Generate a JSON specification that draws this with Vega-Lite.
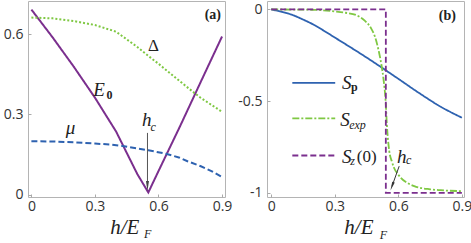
{
  "$schema": "https://vega.github.io/schema/vega-lite/v6.json",
  "padding": {"left": 2, "top": 0, "right": 0, "bottom": 0},
  "spacing": 4,
  "resolve": {"scale": {"color": "independent", "strokeDash": "independent"}},
  "config": {
    "view": {"stroke": "#b4b4b4", "strokeWidth": 1},
    "axis": {"domain": false, "grid": false, "tickSize": -3, "tickColor": "#aaa", "labelFont": "Open Sans", "labelFontSize": 14, "labelColor": "#333", "labelPadding": 5},
    "axisY": {"labelPadding": 8}
  },
  "datasets": {
    "aLines": [
      {"s": "E0", "x": 0, "y": 0.693}, {"s": "E0", "x": 0.1, "y": 0.589}, {"s": "E0", "x": 0.2, "y": 0.479}, {"s": "E0", "x": 0.3, "y": 0.363}, {"s": "E0", "x": 0.4, "y": 0.236}, {"s": "E0", "x": 0.5, "y": 0.077}, {"s": "E0", "x": 0.552, "y": 0.008}, {"s": "E0", "x": 0.6, "y": 0.088}, {"s": "E0", "x": 0.7, "y": 0.253}, {"s": "E0", "x": 0.8, "y": 0.423}, {"s": "E0", "x": 0.9, "y": 0.592},
      {"s": "Delta", "x": 0, "y": 0.663}, {"s": "Delta", "x": 0.1, "y": 0.66}, {"s": "Delta", "x": 0.2, "y": 0.65}, {"s": "Delta", "x": 0.3, "y": 0.635}, {"s": "Delta", "x": 0.4, "y": 0.61}, {"s": "Delta", "x": 0.5, "y": 0.553}, {"s": "Delta", "x": 0.564, "y": 0.512}, {"s": "Delta", "x": 0.6, "y": 0.49}, {"s": "Delta", "x": 0.7, "y": 0.425}, {"s": "Delta", "x": 0.769, "y": 0.381}, {"s": "Delta", "x": 0.8, "y": 0.362}, {"s": "Delta", "x": 0.9, "y": 0.31},
      {"s": "mu", "x": 0, "y": 0.2}, {"s": "mu", "x": 0.1, "y": 0.199}, {"s": "mu", "x": 0.2, "y": 0.196}, {"s": "mu", "x": 0.3, "y": 0.191}, {"s": "mu", "x": 0.375, "y": 0.1875}, {"s": "mu", "x": 0.438, "y": 0.181}, {"s": "mu", "x": 0.5, "y": 0.173}, {"s": "mu", "x": 0.552, "y": 0.166}, {"s": "mu", "x": 0.635, "y": 0.153}, {"s": "mu", "x": 0.7, "y": 0.138}, {"s": "mu", "x": 0.737, "y": 0.125}, {"s": "mu", "x": 0.8, "y": 0.106}, {"s": "mu", "x": 0.85, "y": 0.088}, {"s": "mu", "x": 0.9, "y": 0.066}
    ],
    "aText": [
      {"g": "big", "x": 0.292, "y": 0.369, "text": "E"},
      {"g": "subb", "x": 0.355, "y": 0.358, "text": "0"},
      {"g": "sym", "x": 0.55, "y": 0.537, "text": "Δ"},
      {"g": "big", "x": 0.162, "y": 0.226, "text": "μ"},
      {"g": "big", "x": 0.522, "y": 0.256, "text": "h"},
      {"g": "sub", "x": 0.562, "y": 0.237, "text": "c"},
      {"g": "title", "x": 0.372, "y": -0.149, "text": "h/E"},
      {"g": "sub", "x": 0.532, "y": -0.164, "text": "F"},
      {"g": "tag", "x": 0.895, "y": 0.657, "text": "(a)"}
    ],
    "aArrow": [{"x": 0.548, "y": 0.231, "y2": 0.03}],
    "aHead": [{"x": 0.548, "y": 0.032}],
    "bLines": [
      {"s": "Sp", "i": 0, "x": 0, "y": 0}, {"s": "Sp", "i": 1, "x": 0.05, "y": -0.013}, {"s": "Sp", "i": 2, "x": 0.1, "y": -0.03}, {"s": "Sp", "i": 3, "x": 0.15, "y": -0.055}, {"s": "Sp", "i": 4, "x": 0.2, "y": -0.083}, {"s": "Sp", "i": 5, "x": 0.25, "y": -0.117}, {"s": "Sp", "i": 6, "x": 0.3, "y": -0.153}, {"s": "Sp", "i": 7, "x": 0.4, "y": -0.225}, {"s": "Sp", "i": 8, "x": 0.45, "y": -0.262}, {"s": "Sp", "i": 9, "x": 0.5, "y": -0.3}, {"s": "Sp", "i": 10, "x": 0.55, "y": -0.339}, {"s": "Sp", "i": 11, "x": 0.6, "y": -0.378}, {"s": "Sp", "i": 12, "x": 0.7, "y": -0.457}, {"s": "Sp", "i": 13, "x": 0.8, "y": -0.53}, {"s": "Sp", "i": 14, "x": 0.9, "y": -0.59},
      {"s": "Sexp", "i": 0, "x": 0, "y": 0}, {"s": "Sexp", "i": 1, "x": 0.2, "y": -0.002}, {"s": "Sexp", "i": 2, "x": 0.3, "y": -0.011}, {"s": "Sexp", "i": 3, "x": 0.35, "y": -0.018}, {"s": "Sexp", "i": 4, "x": 0.4, "y": -0.03}, {"s": "Sexp", "i": 5, "x": 0.44, "y": -0.06}, {"s": "Sexp", "i": 6, "x": 0.47, "y": -0.1}, {"s": "Sexp", "i": 7, "x": 0.49, "y": -0.15}, {"s": "Sexp", "i": 8, "x": 0.51, "y": -0.24}, {"s": "Sexp", "i": 9, "x": 0.52, "y": -0.3}, {"s": "Sexp", "i": 10, "x": 0.53, "y": -0.38}, {"s": "Sexp", "i": 11, "x": 0.54, "y": -0.5}, {"s": "Sexp", "i": 12, "x": 0.546, "y": -0.63}, {"s": "Sexp", "i": 13, "x": 0.557, "y": -0.77}, {"s": "Sexp", "i": 14, "x": 0.57, "y": -0.83}, {"s": "Sexp", "i": 15, "x": 0.58, "y": -0.864}, {"s": "Sexp", "i": 16, "x": 0.6, "y": -0.9}, {"s": "Sexp", "i": 17, "x": 0.612, "y": -0.918}, {"s": "Sexp", "i": 18, "x": 0.65, "y": -0.95}, {"s": "Sexp", "i": 19, "x": 0.675, "y": -0.963}, {"s": "Sexp", "i": 20, "x": 0.75, "y": -0.98}, {"s": "Sexp", "i": 21, "x": 0.8, "y": -0.985}, {"s": "Sexp", "i": 22, "x": 0.9, "y": -0.99},
      {"s": "Sz", "i": 0, "x": 0, "y": 0}, {"s": "Sz", "i": 1, "x": 0.541, "y": 0}, {"s": "Sz", "i": 2, "x": 0.541, "y": -1}, {"s": "Sz", "i": 3, "x": 0.9, "y": -1}
    ],
    "bLeg": [
      {"s": "Sp", "x": 0.0995, "x2": 0.302, "y": -0.4},
      {"s": "Sexp", "x": 0.0995, "x2": 0.302, "y": -0.594},
      {"s": "Sz", "x": 0.0995, "x2": 0.302, "y": -0.796}
    ],
    "bText": [
      {"g": "big", "x": 0.334, "y": -0.434, "text": "S"},
      {"g": "subb", "x": 0.376, "y": -0.445, "text": "p"},
      {"g": "big", "x": 0.326, "y": -0.636, "text": "S"},
      {"g": "sub", "x": 0.368, "y": -0.652, "text": "exp"},
      {"g": "big", "x": 0.334, "y": -0.836, "text": "S"},
      {"g": "sub", "x": 0.373, "y": -0.849, "text": "z"},
      {"g": "sym", "x": 0.404, "y": -0.832, "text": "(0)"},
      {"g": "big", "x": 0.594, "y": -0.836, "text": "h"},
      {"g": "sub", "x": 0.636, "y": -0.843, "text": "c"},
      {"g": "title", "x": 0.345, "y": -1.225, "text": "h/E"},
      {"g": "sub", "x": 0.512, "y": -1.253, "text": "F"},
      {"g": "tag", "x": 0.872, "y": -0.057, "text": "(b)"}
    ],
    "bArrow": [{"x": 0.604, "y": -0.854, "x2": 0.57, "y2": -0.964}],
    "bHead": [{"x": 0.57, "y": -0.964}]
  },
  "hconcat": [
    {
      "width": 197,
      "height": 196,
      "encoding": {
        "x": {"field": "x", "type": "quantitative", "scale": {"domain": [-0.016, 0.914], "nice": false, "zero": false}, "axis": {"values": [0, 0.3, 0.6, 0.9], "labelExpr": "toString(datum.value)", "title": null}},
        "y": {"field": "y", "type": "quantitative", "scale": {"domain": [-0.009, 0.725], "nice": false, "zero": false}, "axis": {"values": [0, 0.3, 0.6], "labelExpr": "toString(datum.value)", "title": null}}
      },
      "layer": [
        {
          "data": {"name": "aLines"},
          "mark": {"type": "line", "strokeWidth": 2},
          "encoding": {
            "color": {"field": "s", "type": "nominal", "scale": {"domain": ["E0", "Delta", "mu"], "range": ["#7b2f8e", "#7fc843", "#2e62b0"]}, "legend": null},
            "strokeDash": {"field": "s", "type": "nominal", "scale": {"domain": ["E0", "Delta", "mu"], "range": [[1, 0], [2, 2], [6, 3]]}, "legend": null}
          }
        },
        {
          "data": {"name": "aArrow"},
          "mark": {"type": "rule", "color": "#555", "strokeWidth": 1},
          "encoding": {"y2": {"field": "y2"}}
        },
        {
          "data": {"name": "aHead"},
          "mark": {"type": "point", "shape": "M-0.3,-1L0.3,-1L0,1Z", "size": 100, "filled": true, "color": "#444", "opacity": 1}
        },
        {
          "data": {"name": "aText"},
          "transform": [{"filter": "datum.g == 'big'"}],
          "mark": {"type": "text", "align": "left", "baseline": "alphabetic", "font": "Liberation Serif", "fontStyle": "italic", "fontSize": 19, "color": "#222"},
          "encoding": {"text": {"field": "text"}}
        },
        {
          "data": {"name": "aText"},
          "transform": [{"filter": "datum.g == 'title'"}],
          "mark": {"type": "text", "align": "left", "baseline": "alphabetic", "font": "Liberation Serif", "fontStyle": "italic", "fontSize": 21, "color": "#222"},
          "encoding": {"text": {"field": "text"}}
        },
        {
          "data": {"name": "aText"},
          "transform": [{"filter": "datum.g == 'sym'"}],
          "mark": {"type": "text", "align": "left", "baseline": "alphabetic", "font": "Liberation Serif", "fontSize": 17, "color": "#222"},
          "encoding": {"text": {"field": "text"}}
        },
        {
          "data": {"name": "aText"},
          "transform": [{"filter": "datum.g == 'sub'"}],
          "mark": {"type": "text", "align": "left", "baseline": "alphabetic", "font": "Liberation Serif", "fontStyle": "italic", "fontSize": 12, "color": "#222"},
          "encoding": {"text": {"field": "text"}}
        },
        {
          "data": {"name": "aText"},
          "transform": [{"filter": "datum.g == 'subb'"}],
          "mark": {"type": "text", "align": "left", "baseline": "alphabetic", "font": "Liberation Serif", "fontWeight": "bold", "fontSize": 12, "color": "#222"},
          "encoding": {"text": {"field": "text"}}
        },
        {
          "data": {"name": "aText"},
          "transform": [{"filter": "datum.g == 'tag'"}],
          "mark": {"type": "text", "align": "right", "baseline": "alphabetic", "font": "Liberation Serif", "fontWeight": "bold", "fontSize": 14, "color": "#222"},
          "encoding": {"text": {"field": "text"}}
        }
      ]
    },
    {
      "width": 197,
      "height": 196,
      "encoding": {
        "x": {"field": "x", "type": "quantitative", "scale": {"domain": [-0.02, 0.91], "nice": false, "zero": false}, "axis": {"values": [0, 0.3, 0.6, 0.9], "labelExpr": "toString(datum.value)", "title": null}},
        "y": {"field": "y", "type": "quantitative", "scale": {"domain": [-1.022, 0.046], "nice": false, "zero": false}, "axis": {"values": [0, -0.5, -1], "labelExpr": "toString(datum.value)", "title": null}}
      },
      "layer": [
        {
          "data": {"name": "bLines"},
          "transform": [{"filter": "datum.s != 'Sz'"}],
          "mark": {"type": "line", "strokeWidth": 1.8, "interpolate": "monotone"},
          "encoding": {
            "order": {"field": "i", "type": "quantitative"},
            "color": {"field": "s", "type": "nominal", "scale": {"domain": ["Sp", "Sexp", "Sz"], "range": ["#2e62b0", "#7fc843", "#7b2f8e"]}, "legend": null},
            "strokeDash": {"field": "s", "type": "nominal", "scale": {"domain": ["Sp", "Sexp", "Sz"], "range": [[1, 0], [7, 2, 2, 2], [6, 3]]}, "legend": null}
          }
        },
        {
          "data": {"name": "bLines"},
          "transform": [{"filter": "datum.s == 'Sz'"}],
          "mark": {"type": "line", "strokeWidth": 1.8},
          "encoding": {
            "order": {"field": "i", "type": "quantitative"},
            "color": {"field": "s", "type": "nominal", "scale": {"domain": ["Sp", "Sexp", "Sz"], "range": ["#2e62b0", "#7fc843", "#7b2f8e"]}, "legend": null},
            "strokeDash": {"field": "s", "type": "nominal", "scale": {"domain": ["Sp", "Sexp", "Sz"], "range": [[1, 0], [7, 2, 2, 2], [6, 3]]}, "legend": null}
          }
        },
        {
          "data": {"name": "bLeg"},
          "mark": {"type": "rule", "strokeWidth": 1.8},
          "encoding": {
            "x2": {"field": "x2"},
            "color": {"field": "s", "type": "nominal", "scale": {"domain": ["Sp", "Sexp", "Sz"], "range": ["#2e62b0", "#7fc843", "#7b2f8e"]}, "legend": null},
            "strokeDash": {"field": "s", "type": "nominal", "scale": {"domain": ["Sp", "Sexp", "Sz"], "range": [[1, 0], [7, 2, 2, 2], [6, 3]]}, "legend": null}
          }
        },
        {
          "data": {"name": "bArrow"},
          "mark": {"type": "rule", "color": "#333", "strokeWidth": 1},
          "encoding": {"x2": {"field": "x2"}, "y2": {"field": "y2"}}
        },
        {
          "data": {"name": "bHead"},
          "mark": {"type": "point", "shape": "M-0.3,-1L0.3,-1L0,1Z", "size": 80, "filled": true, "color": "#333", "opacity": 1, "angle": 20}
        },
        {
          "data": {"name": "bText"},
          "transform": [{"filter": "datum.g == 'big'"}],
          "mark": {"type": "text", "align": "left", "baseline": "alphabetic", "font": "Liberation Serif", "fontStyle": "italic", "fontSize": 19, "color": "#222"},
          "encoding": {"text": {"field": "text"}}
        },
        {
          "data": {"name": "bText"},
          "transform": [{"filter": "datum.g == 'title'"}],
          "mark": {"type": "text", "align": "left", "baseline": "alphabetic", "font": "Liberation Serif", "fontStyle": "italic", "fontSize": 21, "color": "#222"},
          "encoding": {"text": {"field": "text"}}
        },
        {
          "data": {"name": "bText"},
          "transform": [{"filter": "datum.g == 'sym'"}],
          "mark": {"type": "text", "align": "left", "baseline": "alphabetic", "font": "Liberation Serif", "fontSize": 17, "color": "#222"},
          "encoding": {"text": {"field": "text"}}
        },
        {
          "data": {"name": "bText"},
          "transform": [{"filter": "datum.g == 'sub'"}],
          "mark": {"type": "text", "align": "left", "baseline": "alphabetic", "font": "Liberation Serif", "fontStyle": "italic", "fontSize": 12, "color": "#222"},
          "encoding": {"text": {"field": "text"}}
        },
        {
          "data": {"name": "bText"},
          "transform": [{"filter": "datum.g == 'subb'"}],
          "mark": {"type": "text", "align": "left", "baseline": "alphabetic", "font": "Liberation Serif", "fontWeight": "bold", "fontSize": 12, "color": "#222"},
          "encoding": {"text": {"field": "text"}}
        },
        {
          "data": {"name": "bText"},
          "transform": [{"filter": "datum.g == 'tag'"}],
          "mark": {"type": "text", "align": "right", "baseline": "alphabetic", "font": "Liberation Serif", "fontWeight": "bold", "fontSize": 14, "color": "#222"},
          "encoding": {"text": {"field": "text"}}
        }
      ]
    }
  ]
}
